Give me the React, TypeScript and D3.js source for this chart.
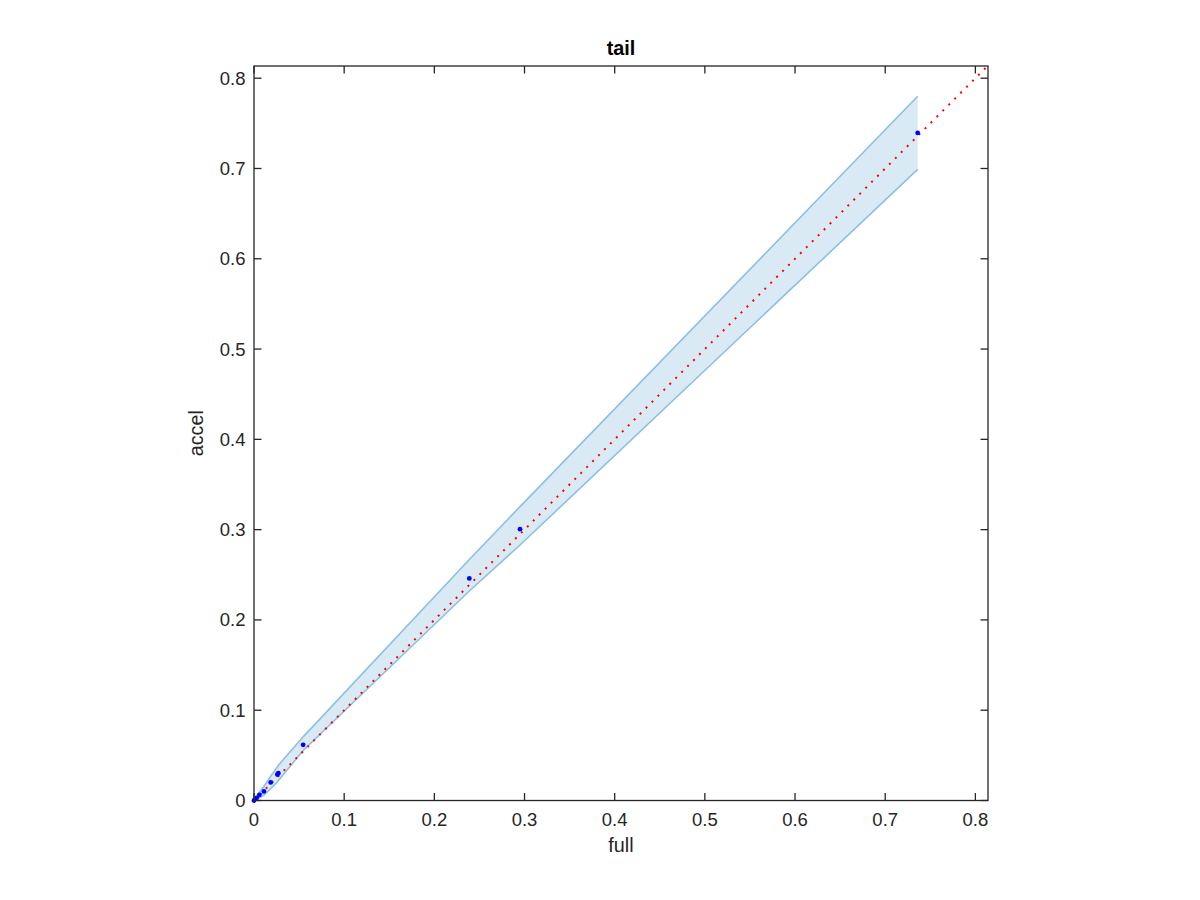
import React from "react";
import * as d3 from "d3";

const xTicks = [0, 0.1, 0.2, 0.3, 0.4, 0.5, 0.6, 0.7, 0.8];
const yTicks = [0, 0.1, 0.2, 0.3, 0.4, 0.5, 0.6, 0.7, 0.8];
const fullVals = [0, 0.003, 0.006, 0.011, 0.0185, 0.0259, 0.027, 0.0545, 0.2388, 0.295, 0.736];
const accelVals = [0, 0.003, 0.0063, 0.010, 0.020, 0.0288, 0.0303, 0.0617, 0.246, 0.3005, 0.7394];
const upperVals = [0, 0.005, 0.0095, 0.0155, 0.027, 0.037, 0.039, 0.0705, 0.267, 0.3255, 0.780];
const lowerVals = [0, 0.001, 0.003, 0.006, 0.013, 0.0205, 0.022, 0.0554, 0.232, 0.283, 0.699];
const refLine = [0, 0.814];

const W = 1200, H = 900;
const L = 254, T = 66, R = 988, B = 800.5;
const FONT = "'Liberation Sans', Arial, Helvetica, sans-serif";
const AX = "#262626";

export default function App() {
  const x = d3.scaleLinear().domain([0, 0.814]).range([L, R]);
  const y = d3.scaleLinear().domain([0, 0.8135]).range([B, T]);
  const idx = fullVals.map((_, i) => i);
  const area = d3.area<number>().x(i => x(fullVals[i])).y0(i => y(lowerVals[i])).y1(i => y(upperVals[i]));
  const upLine = d3.line<number>().x(i => x(fullVals[i])).y(i => y(upperVals[i]));
  const loLine = d3.line<number>().x(i => x(fullVals[i])).y(i => y(lowerVals[i]));
  const tl = 7.5;
  return (
    <svg width={W} height={H} style={{ position: "absolute", left: 0, top: 0, background: "#fff" }} fontFamily={FONT}>
      <rect x={0} y={0} width={W} height={H} fill="#fff" />
      <path d={area(idx) || ""} fill="#d9eaf5" stroke="none" />
      <path d={upLine(idx) || ""} fill="none" stroke="#8cc0e1" strokeWidth={1.6} />
      <path d={loLine(idx) || ""} fill="none" stroke="#8cc0e1" strokeWidth={1.6} />
      <line x1={x(refLine[0])} y1={y(refLine[0])} x2={x(refLine[1])} y2={y(refLine[1])}
        stroke="#ff0000" strokeWidth={2} strokeDasharray="2 6.4" />
      {fullVals.map((v, i) => (
        <circle key={i} cx={x(v)} cy={y(accelVals[i])} r={2.4} fill="#0000ff" />
      ))}
      <g stroke={AX} strokeWidth={1.3} fill="none">
        <rect x={L} y={T} width={R - L} height={B - T} />
        {xTicks.map(t => (
          <g key={"x" + t}>
            <line x1={x(t)} x2={x(t)} y1={B} y2={B - tl} />
            <line x1={x(t)} x2={x(t)} y1={T} y2={T + tl} />
          </g>
        ))}
        {yTicks.map(t => (
          <g key={"y" + t}>
            <line x1={L} x2={L + tl} y1={y(t)} y2={y(t)} />
            <line x1={R} x2={R - tl} y1={y(t)} y2={y(t)} />
          </g>
        ))}
      </g>
      <g fill={AX} fontSize={18.5}>
        {xTicks.map(t => (
          <text key={"xl" + t} x={x(t)} y={826} textAnchor="middle">{String(t)}</text>
        ))}
        {yTicks.map(t => (
          <text key={"yl" + t} x={245.5} y={y(t) + 6.5} textAnchor="end">{String(t)}</text>
        ))}
      </g>
      <text x={(L + R) / 2} y={852} textAnchor="middle" fontSize={19.8} fill={AX}>full</text>
      <text transform={`translate(203,${(T + B) / 2}) rotate(-90)`} textAnchor="middle" fontSize={19.8} fill={AX}>accel</text>
      <text x={(L + R) / 2} y={55} textAnchor="middle" fontSize={19.8} fontWeight="bold" fill="#000">tail</text>
    </svg>
  );
}
